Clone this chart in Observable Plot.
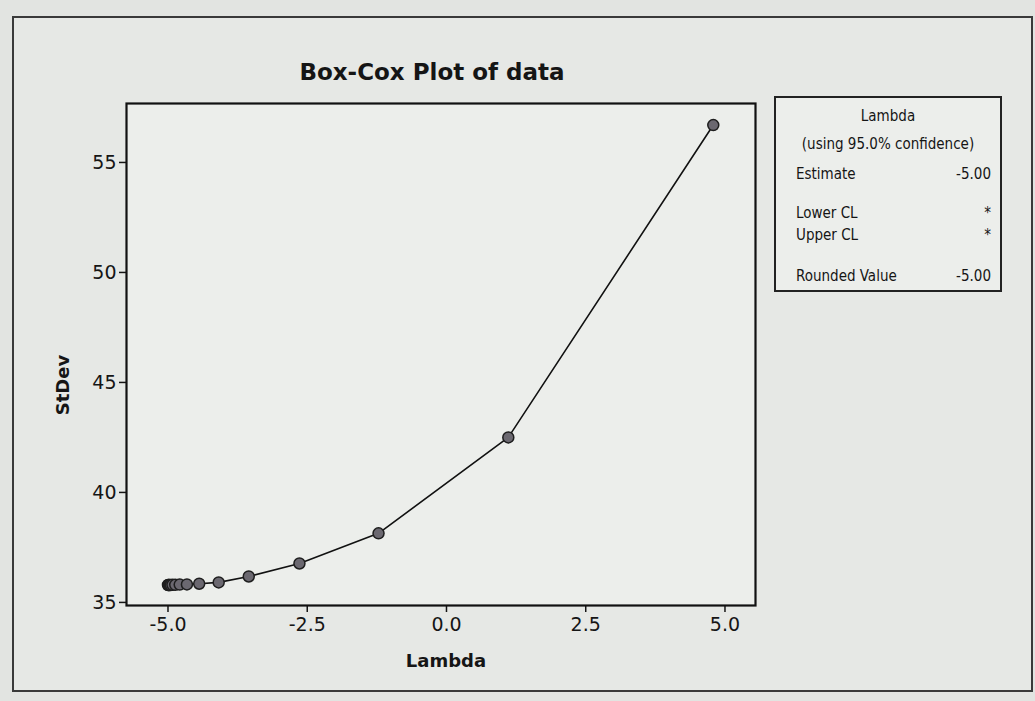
<!DOCTYPE html>
<html>
<head>
<meta charset="utf-8">
<script src="https://cdn.jsdelivr.net/npm/d3@7"></script>
<script src="https://cdn.jsdelivr.net/npm/@observablehq/plot@0.6"></script>
<style>
  html, body { margin: 0; padding: 0; background: #e2e4e1; }
  #wrap { position: relative; width: 1035px; height: 701px; overflow: hidden; font-family: "DejaVu Sans", sans-serif; color: #151515; }
  #outer { position: absolute; left: 12px; top: 16px; width: 1017px; height: 672px; border: 2px solid #3a3a3a; background: #e6e8e5; }
  #chart { position: absolute; left: 0; top: 0; }
  .lbl { position: absolute; font-weight: bold; white-space: nowrap; }
  #title { left: 432px; top: 72px; transform: translate(-50%, -50%); font-size: 23px; }
  #xlab { left: 446px; top: 660px; transform: translate(-50%, -50%); font-size: 18px; }
  #ylab { left: 62px; top: 385px; transform: translate(-50%, -50%) rotate(-90deg); font-size: 18px; }
  #legend { position: absolute; left: 774px; top: 96px; width: 224px; height: 192px; border: 2px solid #222; background: #eceeeb; font-family: "DejaVu Sans Condensed", "DejaVu Sans", sans-serif; font-size: 15px; }
  #legend .row { position: absolute; left: 0; right: 0; height: 20px; line-height: 20px; white-space: nowrap; }
  #legend .c { text-align: center; }
  #legend .l { position: absolute; left: 20px; }
  #legend .r { position: absolute; right: 9px; }
</style>
</head>
<body>
<div id="wrap">
  <div id="outer"></div>
  <div id="chart"></div>
  <div id="title" class="lbl"></div>
  <div id="xlab" class="lbl"></div>
  <div id="ylab" class="lbl"></div>
  <div id="legend"></div>
</div>
<script>
// Data (Box-Cox search: lambda vs StDev)
const lambdaValues = [-5.00, -4.99, -4.98, -4.97, -4.95, -4.92, -4.87, -4.79, -4.66, -4.44, -4.09, -3.55, -2.64, -1.22, 1.11, 4.79];
const stdevValues  = [35.79, 35.79, 35.79, 35.79, 35.79, 35.80, 35.80, 35.81, 35.82, 35.85, 35.91, 36.18, 36.77, 38.14, 42.50, 56.70];
const xTicks = [-5, -2.5, 0, 2.5, 5];
const yTicks = [35, 40, 45, 50, 55];
const titleText = "Box-Cox Plot of data";
const xLabel = "Lambda";
const yLabel = "StDev";
const legendTitle = ["Lambda", "(using 95.0% confidence)"];
const legendNames = ["Estimate", "Lower CL", "Upper CL", "Rounded Value"];
const legendValues = ["-5.00", "*", "*", "-5.00"];

const data = lambdaValues.map((l, i) => ({lambda: l, stdev: stdevValues[i]}));

const plot = Plot.plot({
  width: 1035,
  height: 701,
  marginTop: 103,
  marginBottom: 96,
  marginLeft: 126,
  marginRight: 280,
  style: {background: "transparent", fontFamily: "DejaVu Sans, sans-serif", fontSize: "19px", color: "#151515"},
  x: {domain: [-5.745, 5.548], label: null},
  y: {domain: [34.86, 57.68], label: null},
  marks: [
    Plot.frame({fill: "#eceeeb", stroke: null}),
    Plot.axisX({ticks: xTicks, tickFormat: d => d.toFixed(1), tickSize: 7, tickPadding: 5, stroke: "#151515", strokeWidth: 1.5, label: null}),
    Plot.axisY({ticks: yTicks, tickFormat: d => String(d), tickSize: 7, tickPadding: 3, stroke: "#151515", strokeWidth: 1.5, label: null}),
    Plot.line(data, {x: "lambda", y: "stdev", stroke: "#111", strokeWidth: 1.6}),
    Plot.dot(data, {x: "lambda", y: "stdev", r: 5.5, fill: "#6b6870", stroke: "#1e1e1e", strokeWidth: 1.5}),
    Plot.frame({stroke: "#111", strokeWidth: 2.2})
  ]
});
document.getElementById("chart").appendChild(plot);

document.getElementById("title").textContent = titleText;
document.getElementById("xlab").textContent = xLabel;
document.getElementById("ylab").textContent = yLabel;

const legend = document.getElementById("legend");
const titleTops = [8, 36];
legendTitle.forEach((t, i) => {
  const row = document.createElement("div");
  row.className = "row c";
  row.style.top = titleTops[i] + "px";
  row.textContent = t;
  legend.appendChild(row);
});
const rowTops = [66, 105, 127, 168];
legendNames.forEach((n, i) => {
  const row = document.createElement("div");
  row.className = "row";
  row.style.top = rowTops[i] + "px";
  const l = document.createElement("span");
  l.className = "l"; l.textContent = n;
  const r = document.createElement("span");
  r.className = "r"; r.textContent = legendValues[i];
  row.appendChild(l); row.appendChild(r);
  legend.appendChild(row);
});
</script>
</body>
</html>
